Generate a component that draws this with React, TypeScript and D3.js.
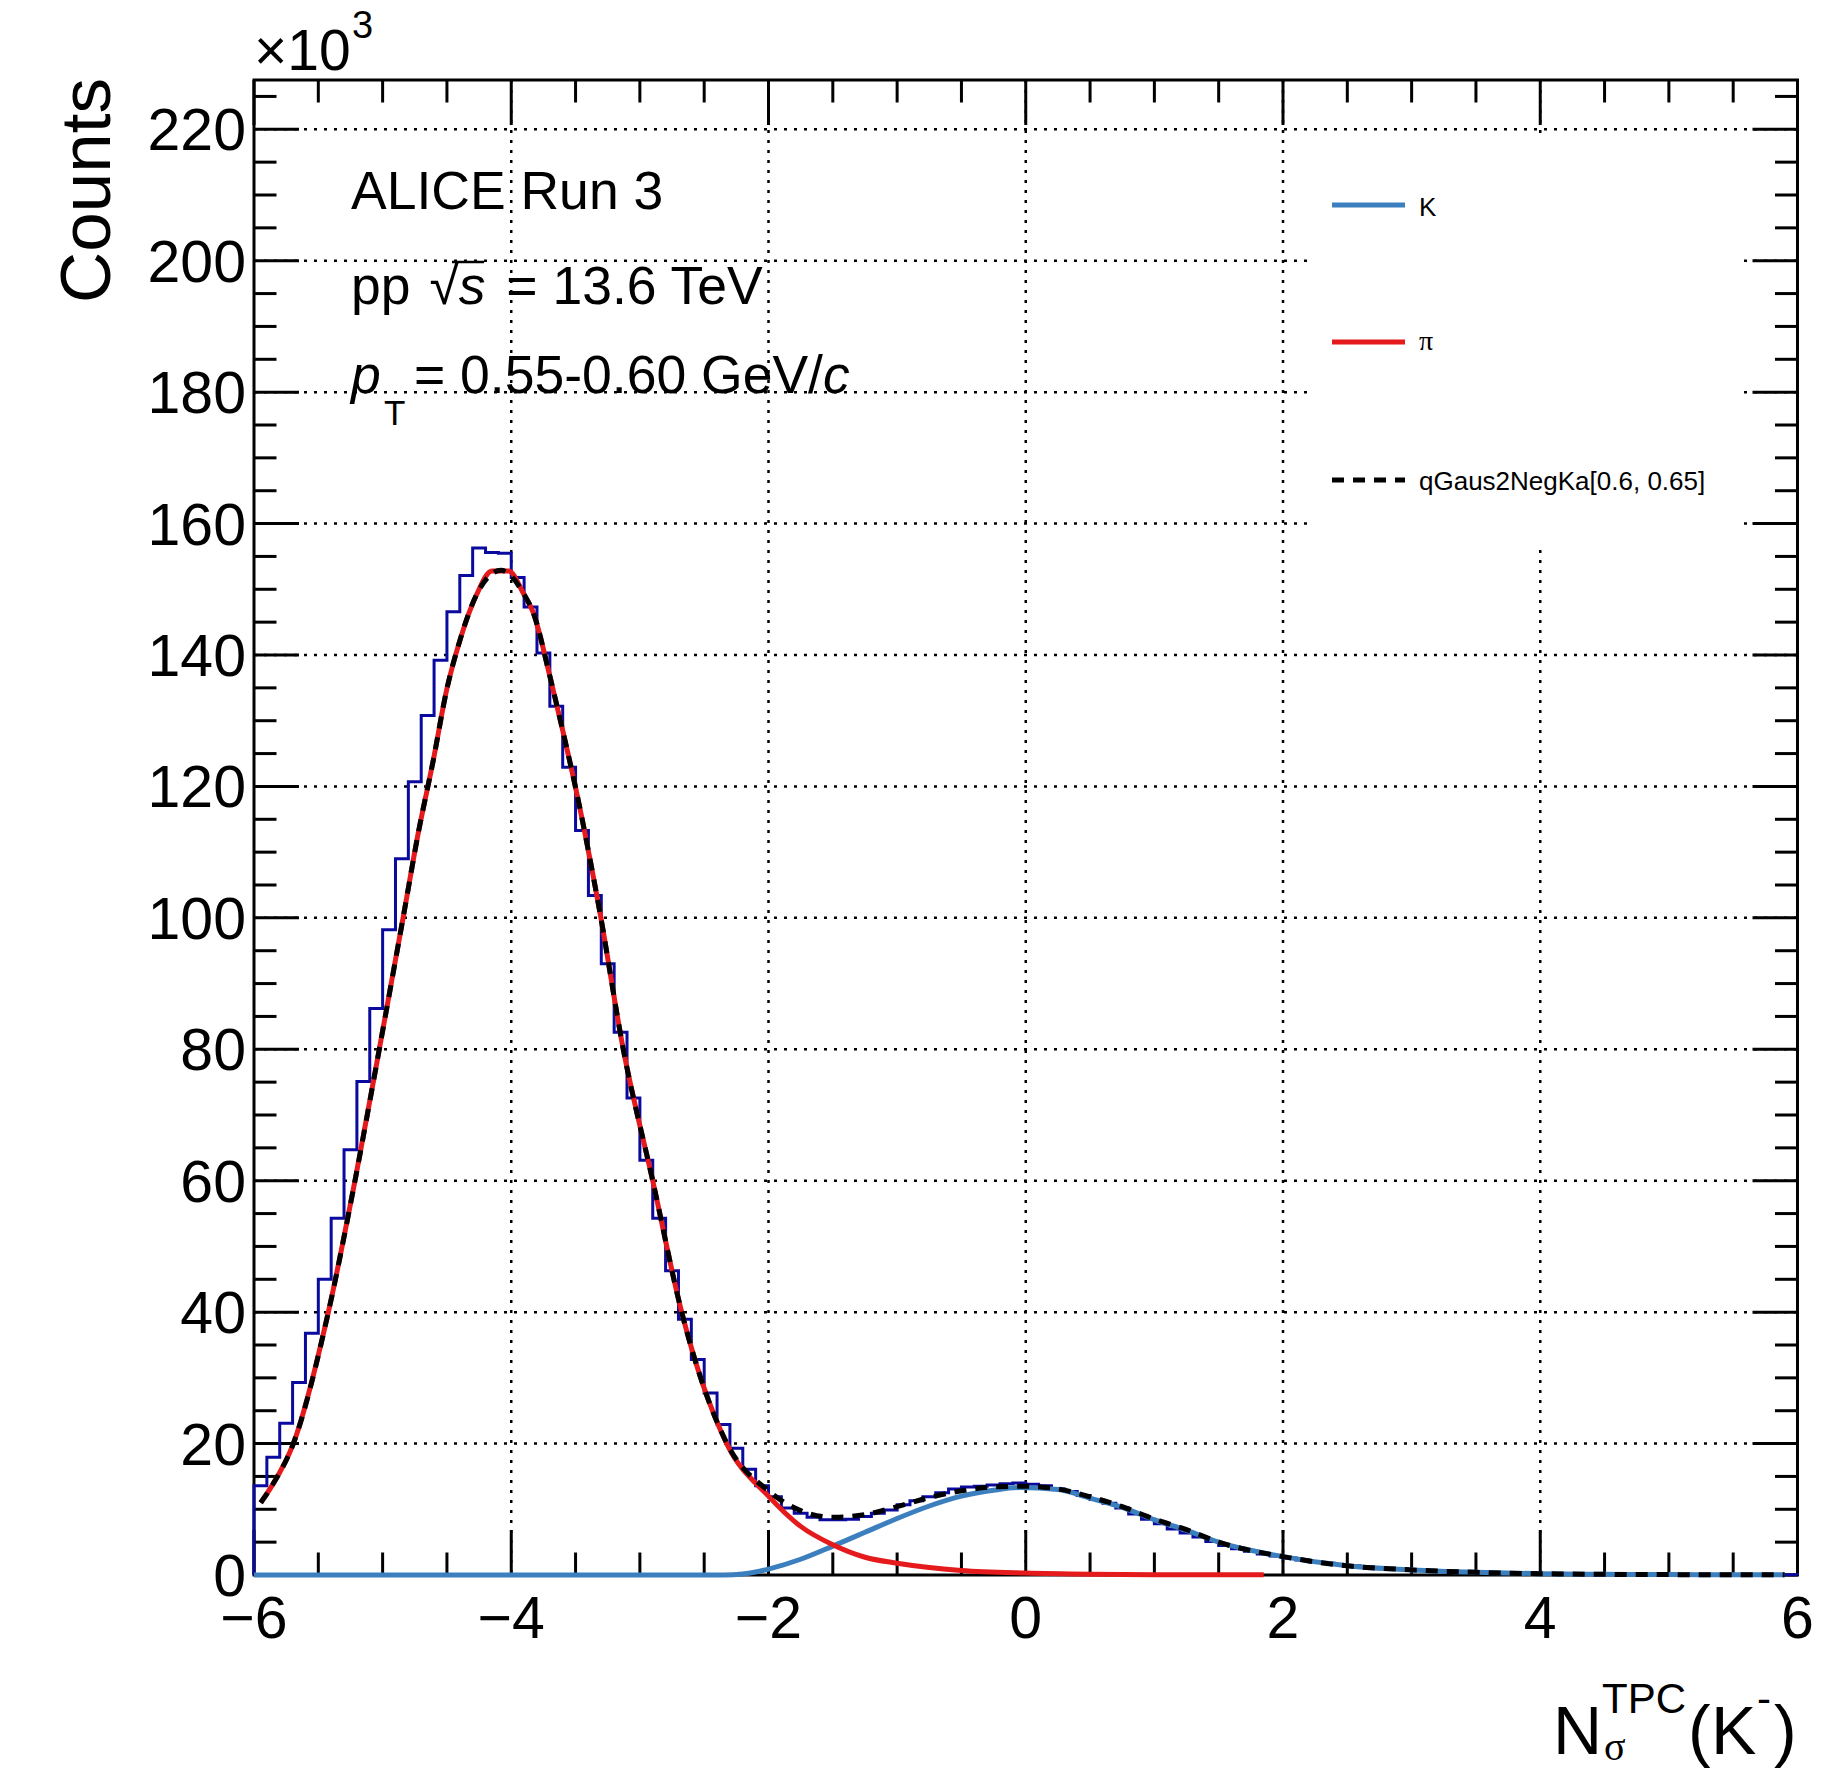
import React from 'react';
import * as d3 from 'd3';

// ---------- data (counts in units of 10^3) ----------
const binLow = -6;
const binWidth = 0.1;
const histCounts = [
  13.6, 17.9, 23.1, 29.3, 36.8, 45.0, 54.3, 64.7, 75.1, 86.2,
  98.2, 109.0, 120.7, 130.8, 139.2, 146.6, 152.1, 156.3, 155.6, 155.5,
  151.8, 147.3, 140.3, 132.2, 122.9, 113.3, 103.4, 93.0, 82.6, 72.6,
  63.1, 54.3, 46.3, 38.9, 32.8, 27.7, 22.9, 19.3, 16.1, 13.6,
  11.9, 10.2, 9.4, 8.8, 8.4, 8.4, 8.5, 8.9, 9.4, 9.9,
  10.7, 11.3, 11.9, 12.5, 13.1, 13.4, 13.5, 13.7, 13.9, 14.0,
  13.8, 13.6, 13.1, 12.7, 12.1, 11.5, 10.9, 10.2, 9.3, 8.5,
  7.8, 7.0, 6.4, 5.8, 5.1, 4.5, 4.0, 3.6, 3.2, 2.9,
  2.6, 2.3, 2.0, 1.8, 1.6, 1.4, 1.25, 1.1, 0.95, 0.85,
  0.75, 0.65, 0.57, 0.5, 0.44, 0.38, 0.33, 0.29, 0.25, 0.22,
  0.19, 0.17, 0.15, 0.13, 0.11, 0.1, 0.09, 0.08, 0.07, 0.06,
  0.05, 0.05, 0.04, 0.04, 0.03, 0.03, 0.03, 0.02, 0.02, 0.02,
];

const piX = [-5.948, -5.86, -5.694, -5.422, -5.215, -5.026, -4.839, -4.723, -4.606, -4.502, -4.398, -4.269, -4.15, -4.02, -3.906, -3.828, -3.699, -3.595, -3.491, -3.315, -3.129, -2.9, -2.675, -2.325, -2.0, -1.75, -1.5, -1.25, -1.0, -0.5, 0, 0.5, 1.0, 1.5, 1.85];
const piY = [11.0, 13.6, 20, 40, 60, 80, 100.2, 112.9, 124.0, 134.7, 142.3, 149.2, 152.8, 152.8, 149.4, 146.4, 136.7, 128.1, 119.0, 101.3, 80, 60, 40, 20, 12.0, 7.4, 4.6, 2.7, 1.8, 0.7, 0.3, 0.12, 0.05, 0.03, 0.02];

const kX = [-6, -2.35, -2.2, -2.1, -2.0, -1.75, -1.5, -1.25, -1.0, -0.75, -0.5, -0.25, -0.05, 0.25, 0.5, 0.75, 1.0, 1.25, 1.5, 2.0, 2.5, 3.0, 3.5, 4.0, 4.5, 5.0, 5.5, 5.9];
const kY = [0, 0, 0.15, 0.45, 0.9, 2.4, 4.4, 6.5, 8.6, 10.5, 12.0, 12.9, 13.3, 13.0, 11.7, 10.3, 8.4, 6.8, 5.0, 2.8, 1.4, 0.76, 0.4, 0.2, 0.1, 0.06, 0.03, 0.02];

const totX = [-5.948, -5.86, -5.694, -5.422, -5.215, -5.026, -4.839, -4.723, -4.606, -4.502, -4.398, -4.269, -4.08, -3.906, -3.828, -3.699, -3.595, -3.491, -3.315, -3.129, -2.9, -2.675, -2.325, -2.0, -1.75, -1.5, -1.25, -1.0, -0.75, -0.5, -0.25, 0, 0.25, 0.5, 0.75, 1.0, 1.25, 1.5, 2.0, 2.5, 3.0, 3.5, 4.0, 4.5, 5.0, 5.5, 5.9];
const totY = [11.0, 13.6, 20, 40, 60, 80, 100.2, 112.9, 124.0, 134.7, 142.3, 149.2, 152.9, 149.4, 146.4, 136.7, 128.1, 119.0, 101.3, 80, 60, 40, 20.1, 12.8, 9.8, 8.8, 9.2, 10.4, 11.8, 12.8, 13.4, 13.5, 13.1, 11.9, 10.4, 8.5, 6.9, 5.0, 2.8, 1.4, 0.78, 0.4, 0.2, 0.1, 0.06, 0.03, 0.02];

const xMajor = [-6, -4, -2, 0, 2, 4, 6];
const xGrid = [-4, -2, 0, 2, 4];
const yMajor = [0, 20, 40, 60, 80, 100, 120, 140, 160, 180, 200, 220];
const yGrid = [20, 40, 60, 80, 100, 120, 140, 160, 180, 200, 220];

const legendLabels = ['K', 'π', 'qGaus2NegKa[0.6, 0.65]'];
const colK = '#3b7fbf';
const colPi = '#e41a1c';
const colHist = '#0a0a9e';

const SANS = '"Liberation Sans", Arial, Helvetica, sans-serif';
const SERIF = '"Liberation Serif", "DejaVu Serif", serif';
const W = 1835;
const H = 1770;

export default function App() {
  const L = 254, R = 1797.5, T = 80, B = 1575;
  const x = d3.scaleLinear().domain([-6, 6]).range([L, R]);
  const y = d3.scaleLinear().domain([0, 227.5]).range([B, T]);

  const xMinor = d3.range(-6, 6.001, 0.5);
  const yMinor = d3.range(0, 227, 5);

  const stepPts: [number, number][] = [[binLow, 0]];
  histCounts.forEach((c, i) => {
    const lo = binLow + i * binWidth;
    stepPts.push([lo, c]);
    stepPts.push([lo + binWidth, c]);
  });
  stepPts.push([6, 0]);
  const linLine = d3.line<[number, number]>().x(d => x(d[0])).y(d => y(d[1]));
  const histPath = linLine(stepPts) || '';

  const curve = d3.line<[number, number]>().x(d => x(d[0])).y(d => y(d[1])).curve(d3.curveMonotoneX);
  const kPath = curve(kX.map((v, i) => [v, kY[i]] as [number, number])) || '';
  const piPath = curve(piX.map((v, i) => [v, piY[i]] as [number, number])) || '';
  const totPath = curve(totX.map((v, i) => [v, totY[i]] as [number, number])) || '';

  const majLen = 45, minLen = 22.5;
  const fmt = (v: number) => (v < 0 ? '\u2212' + Math.abs(v) : String(v));

  const legX1 = 1332, legX2 = 1405, legTx = 1419;
  const legY = [205, 342, 480];

  return (
    <svg width={W} height={H} style={{ position: 'absolute', left: 0, top: 0, background: '#fff' }}
      xmlns="http://www.w3.org/2000/svg">
      <rect x={0} y={0} width={W} height={H} fill="#fff" />
      <defs>
        <clipPath id="frame"><rect x={L - 4} y={T} width={R - L + 8} height={B - T + 4} /></clipPath>
      </defs>

      <g stroke="#000" strokeWidth={2.5} strokeDasharray="3 7" fill="none">
        {xGrid.map(v => <line key={'gx' + v} x1={x(v)} x2={x(v)} y1={T} y2={B} />)}
        {yGrid.map(v => <line key={'gy' + v} x1={L} x2={R} y1={y(v)} y2={y(v)} />)}
      </g>

      <rect x={1313} y={136} width={1742 - 1313} height={548 - 136} fill="#fff" />

      <rect x={L} y={T} width={R - L} height={B - T} fill="none" stroke="#000" strokeWidth={3} />

      <g stroke="#000" strokeWidth={3}>
        {xMinor.map(v => {
          const len = xMajor.includes(Math.round(v * 10) / 10) ? majLen : minLen;
          return (
            <g key={'xt' + v}>
              <line x1={x(v)} x2={x(v)} y1={B} y2={B - len} />
              <line x1={x(v)} x2={x(v)} y1={T} y2={T + len} />
            </g>
          );
        })}
        {yMinor.map(v => {
          const len = v % 20 === 0 ? majLen : minLen;
          return (
            <g key={'yt' + v}>
              <line x1={L} x2={L + len} y1={y(v)} y2={y(v)} />
              <line x1={R} x2={R - len} y1={y(v)} y2={y(v)} />
            </g>
          );
        })}
      </g>

      <g clipPath="url(#frame)" fill="none">
        <path d={histPath} stroke={colHist} strokeWidth={3} />
        <path d={kPath} stroke={colK} strokeWidth={5} />
        <path d={piPath} stroke={colPi} strokeWidth={5} />
        <path d={totPath} stroke="#000" strokeWidth={5} strokeDasharray="12 9" />
      </g>

      <line x1={legX1} x2={legX2} y1={legY[0]} y2={legY[0]} stroke={colK} strokeWidth={5} />
      <line x1={legX1} x2={legX2} y1={legY[1]} y2={legY[1]} stroke={colPi} strokeWidth={5} />
      <line x1={legX1} x2={legX2} y1={legY[2]} y2={legY[2]} stroke="#000" strokeWidth={5} strokeDasharray="12 9" />
      <text x={legTx} y={legY[0] + 11} fontFamily={SANS} fontSize={26}>{legendLabels[0]}</text>
      <text x={legTx} y={legY[1] + 8} fontFamily={SERIF} fontSize={28}>{legendLabels[1]}</text>
      <text x={legTx} y={legY[2] + 10} fontFamily={SANS} fontSize={26}>{legendLabels[2]}</text>

      <g fontFamily={SANS} fontSize={59} fill="#000">
        {xMajor.map(v => (
          <text key={'xl' + v} x={x(v)} y={1638} textAnchor="middle">{fmt(v)}</text>
        ))}
        {yMajor.map(v => (
          <text key={'yl' + v} x={246} y={y(v) + 21} textAnchor="end">{v}</text>
        ))}
      </g>

      <text x={254} y={70} fontFamily={SANS} fontSize={57}>×10</text>
      <text x={352} y={38} fontFamily={SANS} fontSize={38}>3</text>

      <text transform="translate(110,78) rotate(-90)" textAnchor="end" fontFamily={SANS} fontSize={71}>Counts</text>

      <g fontFamily={SANS} fill="#000">
        <text x={1553} y={1754} fontSize={68}>N</text>
        <text x={1602} y={1713} fontSize={42}>TPC</text>
        <text x={1604} y={1760} fontSize={40} fontFamily={SERIF}>σ</text>
        <text x={1688} y={1754} fontSize={68}>(</text>
        <text x={1711} y={1754} fontSize={68}>K</text>
        <text x={1757} y={1713} fontSize={42}>-</text>
        <text x={1774} y={1754} fontSize={68}>)</text>
      </g>

      <g fontFamily={SANS} fontSize={53.5} fill="#000">
        <text x={351} y={209}>ALICE Run 3</text>
        <text x={351} y={304}>
          <tspan>pp </tspan>
          <tspan dx={4}>√</tspan>
          <tspan fontStyle="italic">s</tspan>
          <tspan dx={6}> = 13.6 TeV</tspan>
        </text>
        <line x1={452} x2={484} y1={262} y2={262} stroke="#000" strokeWidth={2.5} />
        <text x={351} y={393}>
          <tspan fontStyle="italic">p</tspan>
        </text>
        <text x={384} y={425} fontSize={35}>T</text>
        <text x={414} y={393}>= 0.55-0.60 GeV/<tspan fontStyle="italic">c</tspan></text>
      </g>
    </svg>
  );
}
